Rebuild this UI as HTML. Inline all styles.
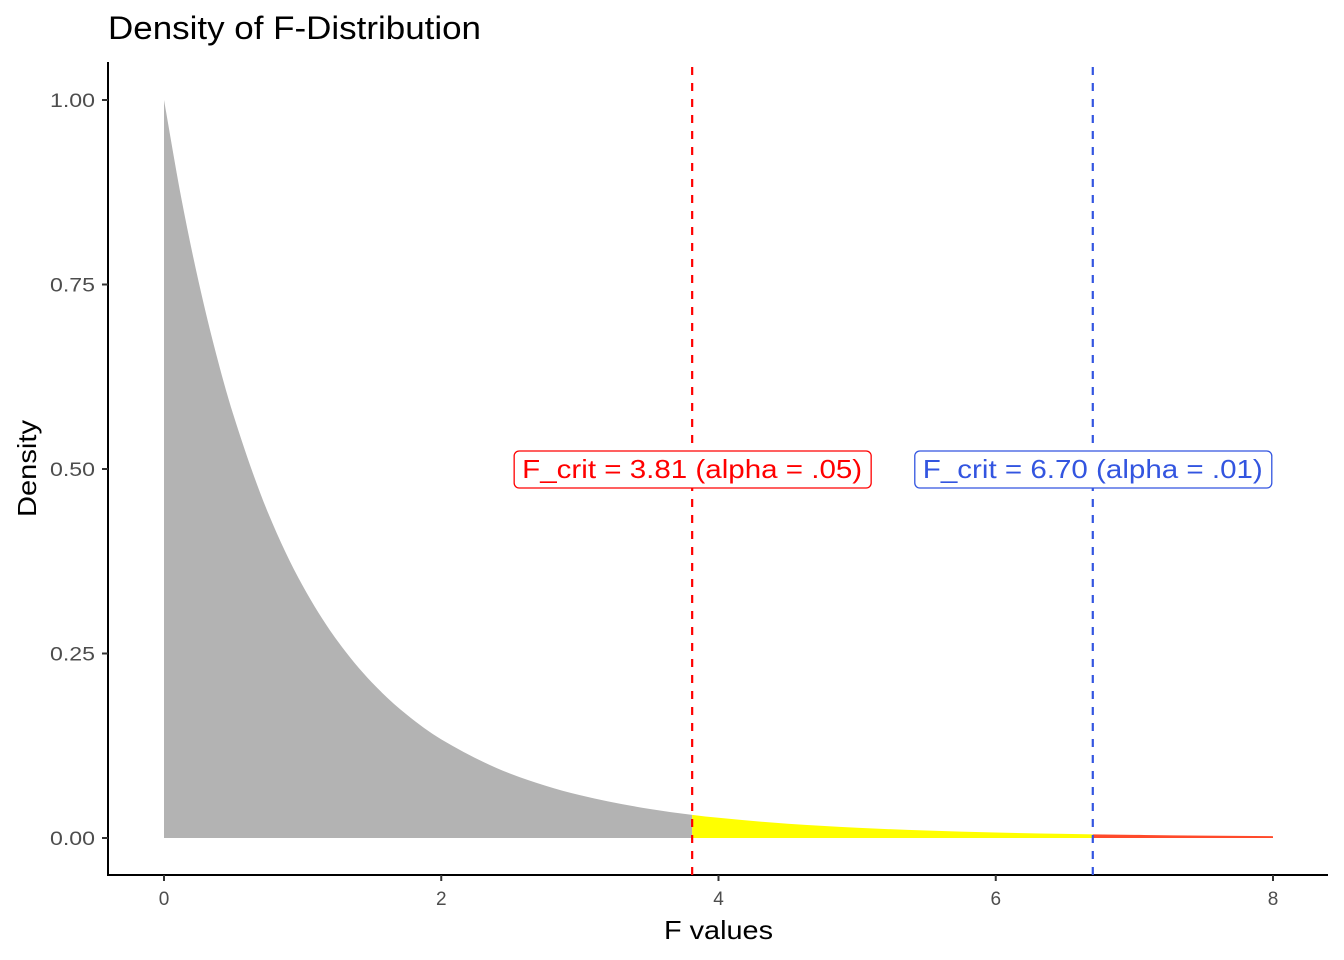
<!DOCTYPE html>
<html><head><meta charset="utf-8"><style>
html,body{margin:0;padding:0;background:#fff;}
svg{display:block;font-family:"Liberation Sans",Arial,sans-serif;}
</style></head><body>
<svg id="chart" width="1344" height="960"></svg>
<script>
const xs = [0,0.125,0.25,0.375,0.5,0.75,1,1.25,1.5,1.75,2,2.5,3,3.5,3.81,4,4.5,5,5.5,6,6.5,6.7,7,7.5,8];
const dens = [1,0.8669,0.7535,0.6566,0.5736,0.4409,0.3419,0.2674,0.2107,0.1673,0.1337,0.0871,0.0581,0.0395,0.0314,0.0274,0.0193,0.0139,0.0101,0.0074,0.00552,0.00493,0.00416,0.00317,0.00244];
const xTicks = [0,2,4,6,8];
const yTicks = [0,0.25,0.5,0.75,1];
const yTickLabels = ["0.00","0.25","0.50","0.75","1.00"];
const crit05 = 3.81, crit01 = 6.70;
const labelY = 0.5;

const svg = document.getElementById('chart');
const NS = 'http://www.w3.org/2000/svg';
const X = v => 164 + v * (1273 - 164) / 8;
const Y = v => 838 - v * (838 - 100);
function mk(tag, attrs, parent){const e=document.createElementNS(NS,tag);for(const k in attrs)e.setAttribute(k,attrs[k]);(parent||svg).appendChild(e);return e;}

// monotone cubic tangents (Fritsch-Carlson)
const n = xs.length;
const sl = [], m = [];
for (let i=0;i<n-1;i++) sl.push((dens[i+1]-dens[i])/(xs[i+1]-xs[i]));
m[0]=sl[0]; m[n-1]=sl[n-2];
for (let i=1;i<n-1;i++) m[i] = (sl[i-1]*sl[i]<=0)?0:2/(1/sl[i-1]+1/sl[i]);
function segPath(i){
  const h = xs[i+1]-xs[i];
  const c1x = xs[i]+h/3, c1y = dens[i]+m[i]*h/3;
  const c2x = xs[i+1]-h/3, c2y = dens[i+1]-m[i+1]*h/3;
  return ' C'+X(c1x)+','+Y(c1y)+' '+X(c2x)+','+Y(c2y)+' '+X(xs[i+1])+','+Y(dens[i+1]);
}
function area(lo, hi, color, name){
  let i0 = xs.findIndex(v=>Math.abs(v-lo)<1e-9);
  let i1 = xs.findIndex(v=>Math.abs(v-hi)<1e-9);
  let d = 'M'+X(lo)+','+Y(0)+' L'+X(lo)+','+Y(dens[i0]);
  for (let i=i0;i<i1;i++) d += segPath(i);
  d += ' L'+X(hi)+','+Y(0)+'Z';
  const p = mk('path',{d:d,fill:color});
  
  
}
area(0, crit05, '#b3b3b3', 'density-area-body');
area(crit05, crit01, '#ffff00', 'rejection-area-05');
area(crit01, 8, '#ff4a2b', 'rejection-area-01');

const ax = mk('line',{x1:108,y1:62,x2:108,y2:876,stroke:'#000','stroke-width':2});
 
const bx = mk('line',{x1:107,y1:875,x2:1328,y2:875,stroke:'#000','stroke-width':2});
 

xTicks.forEach(v=>{
  mk('line',{x1:X(v),y1:875,x2:X(v),y2:881,stroke:'#333','stroke-width':2});
  const t = mk('text',{x:X(v),y:905,'text-anchor':'middle','font-size':19,fill:'#4d4d4d'});
  t.textContent = v;
  
  
});
yTicks.forEach((v,i)=>{
  mk('line',{x1:102,y1:Y(v),x2:108,y2:Y(v),stroke:'#333','stroke-width':2});
  const t = mk('text',{x:95,y:Y(v)+7,'text-anchor':'end','font-size':19,fill:'#4d4d4d',textLength:45,lengthAdjust:'spacingAndGlyphs'});
  t.textContent = yTickLabels[i];
  
  
});

[[crit05,'#ff0000','crit-line-05'],[crit01,'#3355e0','crit-line-01']].forEach(c=>{
  const l = mk('line',{x1:X(c[0]),y1:67,x2:X(c[0]),y2:875,stroke:c[1],'stroke-width':2.2,'stroke-dasharray':'8,8'});
  
  
});

[[crit05,'#ff0000','F_crit = 3.81 (alpha = .05)','crit-label-05'],[crit01,'#3355e0','F_crit = 6.70 (alpha = .01)','crit-label-01']].forEach(c=>{
  const g = mk('g',{});
  
  
  const cx = X(c[0]);
  mk('rect',{x:cx-178,y:Y(labelY)-18,width:357,height:37,rx:5,fill:'#fff',stroke:c[1],'stroke-width':1.3},g);
  const t = mk('text',{x:cx-170,y:Y(labelY)+9,'font-size':26,fill:c[1],textLength:340,lengthAdjust:'spacingAndGlyphs'},g);
  t.textContent = c[2];
});

const title = mk('text',{x:108,y:39,'font-size':32,fill:'#000',textLength:373,lengthAdjust:'spacingAndGlyphs'});
title.textContent='Density of F-Distribution';
 
const xl = mk('text',{x:664,y:939,'font-size':26,fill:'#000',textLength:109,lengthAdjust:'spacingAndGlyphs'});
xl.textContent='F values';
 
const yl = mk('text',{x:-48,y:0,'font-size':26,fill:'#000',textLength:97,lengthAdjust:'spacingAndGlyphs',transform:'translate(36,469) rotate(-90)'});
yl.textContent='Density';
 
</script>
</body></html>
